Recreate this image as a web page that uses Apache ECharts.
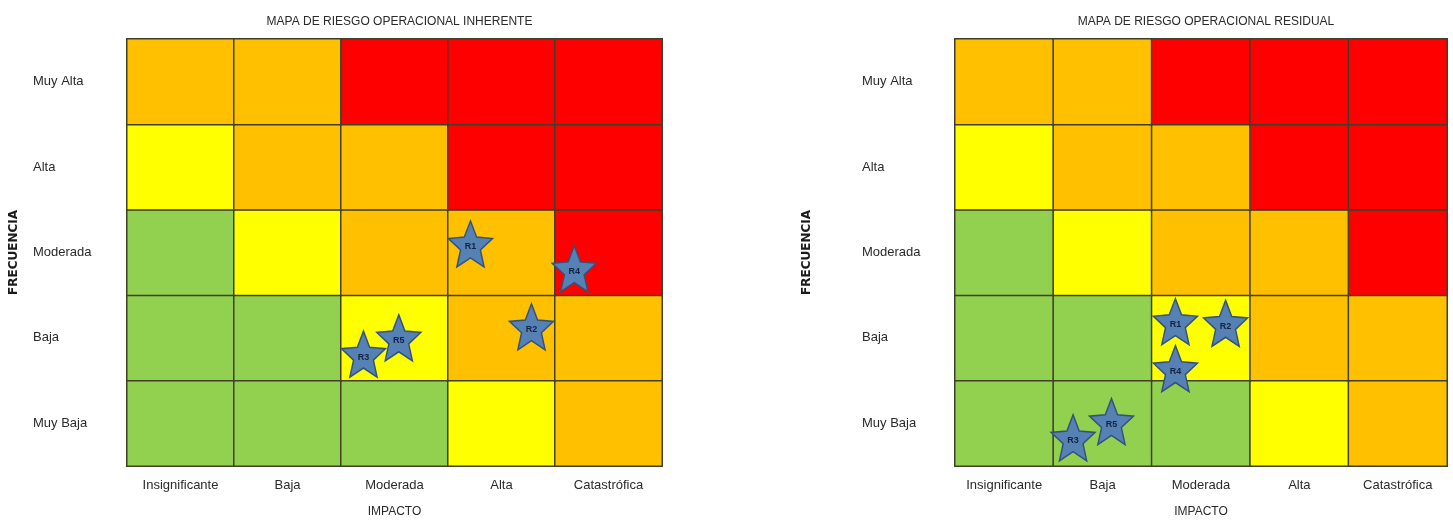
<!DOCTYPE html>
<html><head><meta charset="utf-8">
<script src="https://cdn.jsdelivr.net/npm/echarts@6/dist/echarts.min.js"></script>
<style>html,body{margin:0;padding:0;background:#fff}#c{width:1453px;height:523px}</style>
</head><body><div id="c"></div>
<script>
const impactLabels = ['Insignificante','Baja','Moderada','Alta','Catastrófica'];
const freqLabels = ['Muy Baja','Baja','Moderada','Alta','Muy Alta'];
// rows from Muy Baja (bottom) to Muy Alta (top); G=verde, Y=amarillo, O=naranja, R=rojo
const inherentLevels = [
  ['G','G','G','Y','O'],
  ['G','G','Y','O','O'],
  ['G','Y','O','O','R'],
  ['Y','O','O','R','R'],
  ['O','O','R','R','R']
];
const residualLevels = [
  ['G','G','G','Y','O'],
  ['G','G','Y','O','O'],
  ['G','Y','O','O','R'],
  ['Y','O','O','R','R'],
  ['O','O','R','R','R']
];
const inherentRisks = [
  ['R1',3.21,2.60],['R4',4.18,2.31],['R2',3.78,1.63],['R5',2.54,1.50],['R3',2.21,1.31]
];
const residualRisks = [
  ['R1',2.24,1.69],['R2',2.75,1.67],['R4',2.24,1.14],['R5',1.59,0.52],['R3',1.20,0.33]
];
const titles = ['MAPA DE RIESGO OPERACIONAL INHERENTE','MAPA DE RIESGO OPERACIONAL RESIDUAL'];

const levelColor = {G:'#92D050',Y:'#FFFF00',O:'#FFC000',R:'#FF0000'};
const levelIdx = {G:0,Y:1,O:2,R:3};
const FONT = '"Liberation Sans",Arial,sans-serif';
const star = 'path://M50,0 L63.23,31.8 L97.55,34.55 L71.4,56.95 L79.39,90.45 L50,72.5 L20.61,90.45 L28.6,56.95 L2.45,34.55 L36.77,31.8 Z';

function cells(levels){
  const d=[];
  levels.forEach((row,r)=>row.forEach((l,c)=>d.push([c,r,levelIdx[l]])));
  return d;
}
const grids=[{left:127,top:39,width:535,height:429},{left:955,top:39,width:492,height:429}];
const xAxis=[],yAxis=[],series=[],title=[];
grids.forEach((g,i)=>{
  title.push({text:titles[i],left:g.left+g.width/2,top:11,textAlign:'center',
    textStyle:{fontFamily:FONT,fontSize:12,fontWeight:'normal',color:'#2a2a2a'}});
  xAxis.push({type:'category',gridIndex:i,data:impactLabels,name:'IMPACTO',nameLocation:'middle',nameGap:40,
    nameTextStyle:{fontFamily:FONT,fontSize:12,color:'#2a2a2a'},
    axisLine:{show:false},axisTick:{show:false},splitLine:{show:false},
    axisLabel:{interval:0,hideOverlap:false,fontFamily:FONT,fontSize:13,color:'#2a2a2a',margin:13}});
  yAxis.push({type:'category',gridIndex:i,data:freqLabels,name:'FRECUENCIA',nameLocation:'middle',nameGap:i===0?107:142,
    nameRotate:90,nameTextStyle:{fontFamily:'"DejaVu Sans",sans-serif',fontSize:12,fontWeight:'bold',color:'#1a1a1a'},
    axisLine:{show:false},axisTick:{show:false},splitLine:{show:false},
    axisLabel:{interval:0,fontFamily:FONT,fontSize:13,color:'#2a2a2a',align:'left',margin:i===0?94:93}});
  xAxis.push({type:'value',gridIndex:i,min:0,max:5,show:false});
  yAxis.push({type:'value',gridIndex:i,min:0,max:5,show:false});
});
[inherentLevels,residualLevels].forEach((lv,i)=>{
  series.push({type:'heatmap',xAxisIndex:i*2,yAxisIndex:i*2,data:cells(lv),
    itemStyle:{borderColor:'#3f3f2a',borderWidth:1.5},emphasis:{disabled:true},silent:true});
});
[inherentRisks,residualRisks].forEach((rk,i)=>{
  series.push({type:'scatter',xAxisIndex:i*2+1,yAxisIndex:i*2+1,symbol:star,symbolSize:[44,46],
    data:rk.map(r=>({name:r[0],value:[r[1],r[2]]})),
    itemStyle:{color:'#5681B5',borderColor:'#33527a',borderWidth:1.5,opacity:1},
    label:{show:true,formatter:'{b}',position:'inside',offset:[0,3],fontFamily:FONT,fontSize:9,fontWeight:'bold',color:'#14233f'},
    silent:true,z:5});
});
const chart=echarts.init(document.getElementById('c'),null,{renderer:'canvas'});
chart.setOption({
  animation:false,title,grid:grids,xAxis,yAxis,series,
  visualMap:{show:false,type:'piecewise',seriesIndex:[0,1],dimension:2,
    pieces:[{value:0,color:levelColor.G},{value:1,color:levelColor.Y},{value:2,color:levelColor.O},{value:3,color:levelColor.R}]}
});
</script></body></html>
